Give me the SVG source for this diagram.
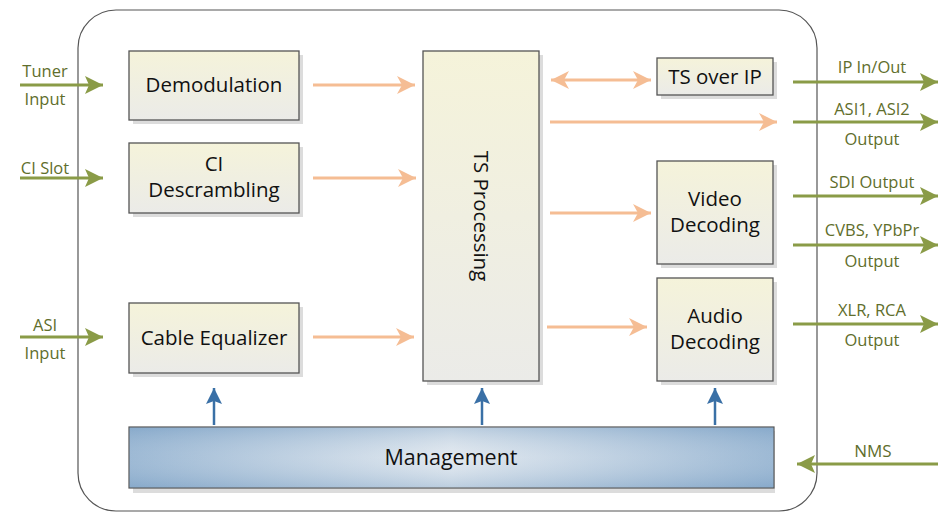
<svg xmlns="http://www.w3.org/2000/svg" width="938" height="513" viewBox="0 0 938 513">
<defs>
<linearGradient id="boxg" x1="0" y1="0" x2="0" y2="1">
<stop offset="0" stop-color="#f5f3da"/>
<stop offset="1" stop-color="#ebebe8"/>
</linearGradient>
<linearGradient id="mgmtg" x1="0" y1="0" x2="1" y2="0">
<stop offset="0" stop-color="#8cadcd"/>
<stop offset="0.5" stop-color="#dde5ed"/>
<stop offset="1" stop-color="#8cadcd"/>
</linearGradient>
<linearGradient id="mgmtv" x1="0" y1="0" x2="0" y2="1">
<stop offset="0" stop-color="#7fa3c6" stop-opacity="0.35"/>
<stop offset="0.5" stop-color="#ffffff" stop-opacity="0.15"/>
<stop offset="1" stop-color="#7fa3c6" stop-opacity="0.35"/>
</linearGradient>
<marker id="ao" markerUnits="userSpaceOnUse" markerWidth="20" markerHeight="20" refX="18" refY="9" orient="auto">
<path d="M0,0 L18,9 L0,18 L5,9 Z" fill="#f5bd94"/>
</marker>
<marker id="aos" markerUnits="userSpaceOnUse" markerWidth="20" markerHeight="20" refX="0" refY="9" orient="auto">
<path d="M18,0 L0,9 L18,18 L13,9 Z" fill="#f5bd94"/>
</marker>
<marker id="ag" markerUnits="userSpaceOnUse" markerWidth="20" markerHeight="20" refX="18" refY="9" orient="auto">
<path d="M0,0 L18,9 L0,18 L4,9 Z" fill="#8a9b47"/>
</marker>
<marker id="ab" markerUnits="userSpaceOnUse" markerWidth="20" markerHeight="20" refX="16" refY="8" orient="auto">
<path d="M0,0 L16,8 L0,16 L3,8 Z" fill="#3a70a6"/>
</marker>
</defs>
<style>
.box{fill:url(#boxg);stroke:#555;stroke-width:1.3}
.sh{fill:#dcdcdc}
.t{font-family:"Open Sans","Noto Sans",sans-serif;font-size:20.5px;fill:#111;text-anchor:middle}
.l{font-family:"Open Sans","Noto Sans",sans-serif;font-size:16.5px;fill:#5f6e2c;text-anchor:middle}
.o{stroke:#f5bd94;stroke-width:3;fill:none}
.g{stroke:#8a9b47;stroke-width:3;fill:none}
.b{stroke:#3a70a6;stroke-width:2.5;fill:none}
</style>
<rect x="78" y="10" width="739" height="501" rx="38" fill="#fff" stroke="#555" stroke-width="1.2"/>

<g id="demodulation">
<rect class="sh" x="133" y="55" width="170" height="69"/>
<rect class="box" x="129" y="51" width="170" height="69"/>
<text class="t" x="214" y="92">Demodulation</text>
</g>
<g id="ci-descrambling">
<rect class="sh" x="133" y="147" width="170" height="70"/>
<rect class="box" x="129" y="143" width="170" height="70"/>
<text class="t" x="214" y="171">CI</text>
<text class="t" x="214" y="197">Descrambling</text>
</g>
<g id="cable-equalizer">
<rect class="sh" x="133" y="307" width="170" height="70"/>
<rect class="box" x="129" y="303" width="170" height="70"/>
<text class="t" x="214" y="345">Cable Equalizer</text>
</g>
<g id="ts-processing">
<rect class="sh" x="427" y="55" width="116" height="330"/>
<rect class="box" x="423" y="51" width="116" height="330"/>
<text class="t" transform="translate(474 216) rotate(90)" x="0" y="0">TS Processing</text>
</g>
<g id="ts-over-ip">
<rect class="sh" x="661" y="62" width="116" height="37"/>
<rect class="box" x="657" y="58" width="116" height="37"/>
<text class="t" x="715" y="84">TS over IP</text>
</g>
<g id="video-decoding">
<rect class="sh" x="661" y="165" width="116" height="103"/>
<rect class="box" x="657" y="161" width="116" height="103"/>
<text class="t" x="715" y="206">Video</text>
<text class="t" x="715" y="232">Decoding</text>
</g>
<g id="audio-decoding">
<rect class="sh" x="661" y="282" width="116" height="103"/>
<rect class="box" x="657" y="278" width="116" height="103"/>
<text class="t" x="715" y="323">Audio</text>
<text class="t" x="715" y="349">Decoding</text>
</g>
<g id="management">
<rect class="sh" x="133" y="431" width="642" height="62"/>
<rect x="129" y="427" width="645" height="61" fill="url(#mgmtg)" stroke="#555" stroke-width="1.2"/>
<rect x="129.6" y="427.6" width="643.8" height="59.8" fill="url(#mgmtv)"/>
<text class="t" x="451" y="465" style="font-family:'Liberation Sans Narrow','Open Sans',sans-serif;font-size:21.5px">Management</text>
</g>

<g id="connectors">
<line class="o" x1="313" y1="85" x2="415" y2="85" marker-end="url(#ao)"/>
<line class="o" x1="313" y1="178" x2="416" y2="178" marker-end="url(#ao)"/>
<line class="o" x1="313" y1="337" x2="414" y2="337" marker-end="url(#ao)"/>
<line class="o" x1="551" y1="80" x2="651" y2="80" marker-start="url(#aos)" marker-end="url(#ao)"/>
<line class="o" x1="550" y1="122" x2="777" y2="122" marker-end="url(#ao)"/>
<line class="o" x1="550" y1="213" x2="651" y2="213" marker-end="url(#ao)"/>
<line class="o" x1="547" y1="327" x2="647" y2="327" marker-end="url(#ao)"/>

<line class="g" x1="20" y1="85" x2="103" y2="85" marker-end="url(#ag)"/>
<line class="g" x1="20" y1="178" x2="103" y2="178" marker-end="url(#ag)"/>
<line class="g" x1="20" y1="337" x2="103" y2="337" marker-end="url(#ag)"/>
<line class="g" x1="793" y1="82" x2="938" y2="82" marker-end="url(#ag)"/>
<line class="g" x1="793" y1="122" x2="938" y2="122" marker-end="url(#ag)"/>
<line class="g" x1="793" y1="196" x2="938" y2="196" marker-end="url(#ag)"/>
<line class="g" x1="793" y1="245" x2="938" y2="245" marker-end="url(#ag)"/>
<line class="g" x1="793" y1="324" x2="938" y2="324" marker-end="url(#ag)"/>
<line class="g" x1="938" y1="464" x2="797" y2="464" marker-end="url(#ag)"/>

<line class="b" x1="214" y1="425" x2="214" y2="388" marker-end="url(#ab)"/>
<line class="b" x1="482" y1="425" x2="482" y2="388" marker-end="url(#ab)"/>
<line class="b" x1="715" y1="425" x2="715" y2="388" marker-end="url(#ab)"/>
</g>

<g id="labels">
<text class="l" x="45" y="77">Tuner</text>
<text class="l" x="45" y="105">Input</text>
<text class="l" x="45" y="174">CI Slot</text>
<text class="l" x="45" y="331">ASI</text>
<text class="l" x="45" y="359">Input</text>
<text class="l" x="872" y="73">IP In/Out</text>
<text class="l" x="872" y="115">ASI1, ASI2</text>
<text class="l" x="872" y="145">Output</text>
<text class="l" x="872" y="188">SDI Output</text>
<text class="l" x="872" y="236">CVBS, YPbPr</text>
<text class="l" x="872" y="267">Output</text>
<text class="l" x="872" y="316">XLR, RCA</text>
<text class="l" x="872" y="346">Output</text>
<text class="l" x="873" y="457" style="font-family:'Liberation Sans Narrow','Open Sans',sans-serif;font-size:17px">NMS</text>
</g>
</svg>
